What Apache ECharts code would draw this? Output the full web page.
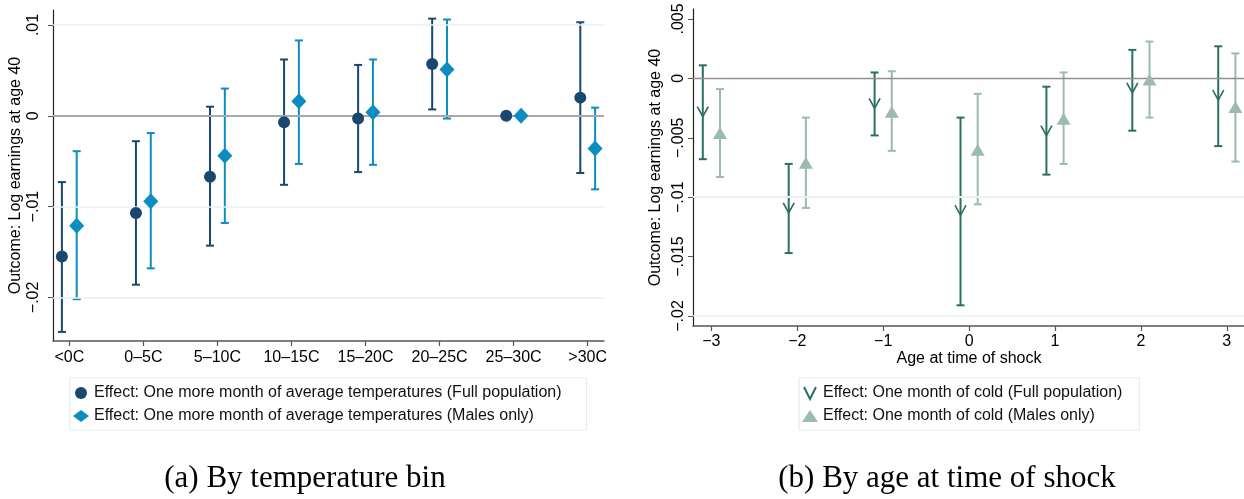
<!DOCTYPE html>
<html>
<head>
<meta charset="utf-8">
<script src="https://cdn.jsdelivr.net/npm/echarts@6/dist/echarts.min.js"></script>
<style>
  html, body { margin: 0; padding: 0; background: #fff; }
  #main { width: 1244px; height: 499px; }
</style>
</head>
<body>
<div id="main"></div>
<script>
// (a) by temperature bin
const tempBins = ['<0C', '0\u20135C', '5\u201310C', '10\u201315C', '15\u201320C', '20\u201325C', '25\u201330C', '>30C'];
const tempFullEst = [-0.0155, -0.0107, -0.0067, -0.0007, -0.0003, 0.0057, 0, 0.0020];
const tempFullLo = [-0.0238, -0.0186, -0.0143, -0.0076, -0.0062, 0.0007, null, -0.0063];
const tempFullHi = [-0.0073, -0.0028, 0.0010, 0.0062, 0.0056, 0.0107, null, 0.0103];
const tempMaleEst = [-0.0121, -0.0094, -0.0044, 0.0016, 0.0004, 0.0051, 0, -0.0036];
const tempMaleLo = [-0.0202, -0.0168, -0.0118, -0.0053, -0.0054, -0.0003, null, -0.0081];
const tempMaleHi = [-0.0039, -0.0019, 0.0030, 0.0083, 0.0062, 0.0106, null, 0.0009];
const tempYTicks = [-0.02, -0.01, 0, 0.01];

// (b) by age at time of shock
const ages = [-3, -2, -1, 0, 1, 2, 3];
const ageFullEst = [-0.0028, -0.0109, -0.0021, -0.0111, -0.0044, -0.0008, -0.0014];
const ageFullLo = [-0.0068, -0.0147, -0.0048, -0.0191, -0.0081, -0.0044, -0.0057];
const ageFullHi = [0.0011, -0.0072, 0.0005, -0.0033, -0.0007, 0.0024, 0.0027];
const ageMaleEst = [-0.0046, -0.0071, -0.0028, -0.0060, -0.0034, -0.0001, -0.0024];
const ageMaleLo = [-0.0083, -0.0109, -0.0061, -0.0106, -0.0072, -0.0033, -0.0070];
const ageMaleHi = [-0.0009, -0.0033, 0.0006, -0.0013, 0.0005, 0.0031, 0.0021];
const ageYTicks = [-0.02, -0.015, -0.01, -0.005, 0, 0.005];

const FONT = 'Liberation Sans';
const navy = '#1a476f', sky = '#0b8dc1', teal = '#2b6e64', sage = '#9bbab2';
const gridCol = '#e8f0f1';
const dodge = 0.1;
const vPath = 'path://M0,0 L5,10 L10,0';

function num(v) {
  if (v === 0) return '0';
  let s = String(Math.abs(+v.toFixed(4))).replace(/^0/, '');
  return (v < 0 ? '\u2212' : '') + s;
}

function bars(xs, lo, hi) {
  let out = [];
  xs.forEach((x, i) => { if (lo[i] != null) out.push([x, lo[i], hi[i]]); });
  return out;
}

function errSeries(name, xi, yi, data, color, lw, cap) {
  return {
    name: name, type: 'custom', xAxisIndex: xi, yAxisIndex: yi, z: 3,
    data: data, encode: { x: 0, y: [1, 2] }, silent: true,
    renderItem: function (params, api) {
      let a = api.coord([api.value(0), api.value(2)]);
      let b = api.coord([api.value(0), api.value(1)]);
      let st = { stroke: color, lineWidth: lw };
      return {
        type: 'group', children: [
          { type: 'line', shape: { x1: a[0], y1: a[1], x2: b[0], y2: b[1] }, style: st },
          { type: 'line', shape: { x1: a[0] - cap, y1: a[1], x2: a[0] + cap, y2: a[1] }, style: st },
          { type: 'line', shape: { x1: b[0] - cap, y1: b[1], x2: b[0] + cap, y2: b[1] }, style: st }
        ]
      };
    }
  };
}

function refLines(xi, yi, ticks, zeroCol, zeroW) {
  return {
    type: 'line', xAxisIndex: xi, yAxisIndex: yi, data: [], z: 1, silent: true,
    markLine: {
      silent: true, symbol: 'none', label: { show: false }, animation: false,
      data: ticks.map(t => ({
        yAxis: t,
        lineStyle: t === 0 ? { color: zeroCol, width: zeroW, type: 'solid' }
                           : { color: gridCol, width: 1.5, type: 'solid' }
      }))
    }
  };
}

function yAxisOf(idx, min, max, ticks, margin) {
  return {
    type: 'value', gridIndex: idx, min: min, max: max,
    name: 'Outcome: Log earnings at age 40', nameLocation: 'middle', nameRotate: 90, nameGap: 29,
    nameTextStyle: { color: '#000', fontSize: 16 },
    axisLine: { show: true, onZero: false, lineStyle: { color: '#222', width: 1.2 } },
    axisTick: { show: true, length: 5, customValues: ticks, lineStyle: { color: '#555' } },
    axisLabel: { customValues: ticks, formatter: v => num(v), rotate: 90, color: '#000', fontSize: 16, margin: margin },
    splitLine: { show: false }
  };
}

const tempX = tempBins.map((b, i) => i + 1);

let chart = echarts.init(document.getElementById('main'));
chart.setOption({
  animation: false,
  textStyle: { fontFamily: FONT },
  grid: [
    { left: 53, top: 10, width: 551, height: 331 },
    { left: 693, top: 9, width: 551, height: 317 }
  ],
  xAxis: [
    {
      type: 'value', gridIndex: 0, min: 0.78, max: 8.22,
      axisLine: { show: true, onZero: false, lineStyle: { color: '#555', width: 1.5 } },
      axisTick: { show: true, length: 5, customValues: tempX, lineStyle: { color: '#555', width: 1.2 } },
      axisLabel: { customValues: tempX, formatter: v => tempBins[Math.round(v) - 1], color: '#000', fontSize: 16, margin: 9 },
      splitLine: { show: false }
    },
    {
      type: 'value', gridIndex: 1, min: -3.214, max: 3.2,
      axisLine: { show: true, onZero: false, lineStyle: { color: '#555', width: 1.5 } },
      axisTick: { show: true, length: 5, customValues: ages, lineStyle: { color: '#555', width: 1.2 } },
      axisLabel: { customValues: ages, formatter: v => num(v), color: '#000', fontSize: 16, margin: 8 },
      splitLine: { show: false }
    }
  ],
  yAxis: [
    yAxisOf(0, -0.0248, 0.01165, tempYTicks, 11),
    yAxisOf(1, -0.02084, 0.00584, ageYTicks, 6)
  ],
  legend: [
    {
      left: 70, top: 378, orient: 'vertical', itemGap: 7, itemWidth: 16, itemHeight: 12,
      padding: [7, 25, 6, 3], borderColor: '#e3edee', borderWidth: 1.2,
      textStyle: { fontSize: 16, color: '#111' },
      data: [
        { name: 'Effect: One more month of average temperatures (Full population)', icon: 'circle' },
        { name: 'Effect: One more month of average temperatures (Males only)', icon: 'diamond' }
      ]
    },
    {
      left: 799, top: 378, orient: 'vertical', itemGap: 7, itemWidth: 16, itemHeight: 12,
      padding: [7, 17, 6, 3], borderColor: '#e3edee', borderWidth: 1.2,
      textStyle: { fontSize: 16, color: '#111' },
      data: [
        { name: 'Effect: One month of cold (Full population)' },
        { name: 'Effect: One month of cold (Males only)', icon: 'triangle' }
      ]
    }
  ],
  graphic: [
    { type: 'text', x: 305, y: 479, style: { text: '(a) By temperature bin', font: '31px "Liberation Serif"', fill: '#000', align: 'center', verticalAlign: 'middle' } },
    { type: 'text', x: 947, y: 479, style: { text: '(b) By age at time of shock', font: '31px "Liberation Serif"', fill: '#000', align: 'center', verticalAlign: 'middle' } },
    { type: 'text', x: 969, y: 359, style: { text: 'Age at time of shock', font: '16px "Liberation Sans"', fill: '#000', align: 'center', verticalAlign: 'middle' } }
  ],
  series: [
    refLines(0, 0, tempYTicks, '#a9a9a9', 2),
    refLines(1, 1, ageYTicks, '#8f8f8f', 1.4),
    errSeries('tf', 0, 0, bars(tempX.map(x => x - dodge), tempFullLo, tempFullHi), navy, 2, 4),
    errSeries('tm', 0, 0, bars(tempX.map(x => x + dodge), tempMaleLo, tempMaleHi), sky, 2, 4),
    errSeries('af', 1, 1, bars(ages.map(x => x - dodge), ageFullLo, ageFullHi), teal, 2, 4),
    errSeries('am', 1, 1, bars(ages.map(x => x + dodge), ageMaleLo, ageMaleHi), sage, 2, 4),
    {
      name: 'Effect: One more month of average temperatures (Full population)', type: 'scatter',
      xAxisIndex: 0, yAxisIndex: 0, z: 5, symbol: 'circle', symbolSize: 12,
      itemStyle: { color: navy, opacity: 1 },
      data: tempFullEst.map((v, i) => [tempX[i] - dodge, v])
    },
    {
      name: 'Effect: One more month of average temperatures (Males only)', type: 'scatter',
      xAxisIndex: 0, yAxisIndex: 0, z: 5, symbol: 'diamond', symbolSize: [15, 16],
      itemStyle: { color: sky, opacity: 1 },
      data: tempMaleEst.map((v, i) => [tempX[i] + dodge, v])
    },
    {
      name: 'Effect: One month of cold (Full population)', type: 'scatter',
      xAxisIndex: 1, yAxisIndex: 1, z: 5, symbol: vPath, symbolSize: [11, 10],
      itemStyle: { color: 'rgba(0,0,0,0)', borderColor: teal, borderWidth: 1.6, opacity: 1 },
      data: ageFullEst.map((v, i) => [ages[i] - dodge, v])
    },
    {
      name: 'Effect: One month of cold (Males only)', type: 'scatter',
      xAxisIndex: 1, yAxisIndex: 1, z: 5, symbol: 'triangle', symbolSize: [14, 12],
      itemStyle: { color: sage, opacity: 1 },
      data: ageMaleEst.map((v, i) => [ages[i] + dodge, v])
    }
  ]
});
</script>
</body>
</html>
